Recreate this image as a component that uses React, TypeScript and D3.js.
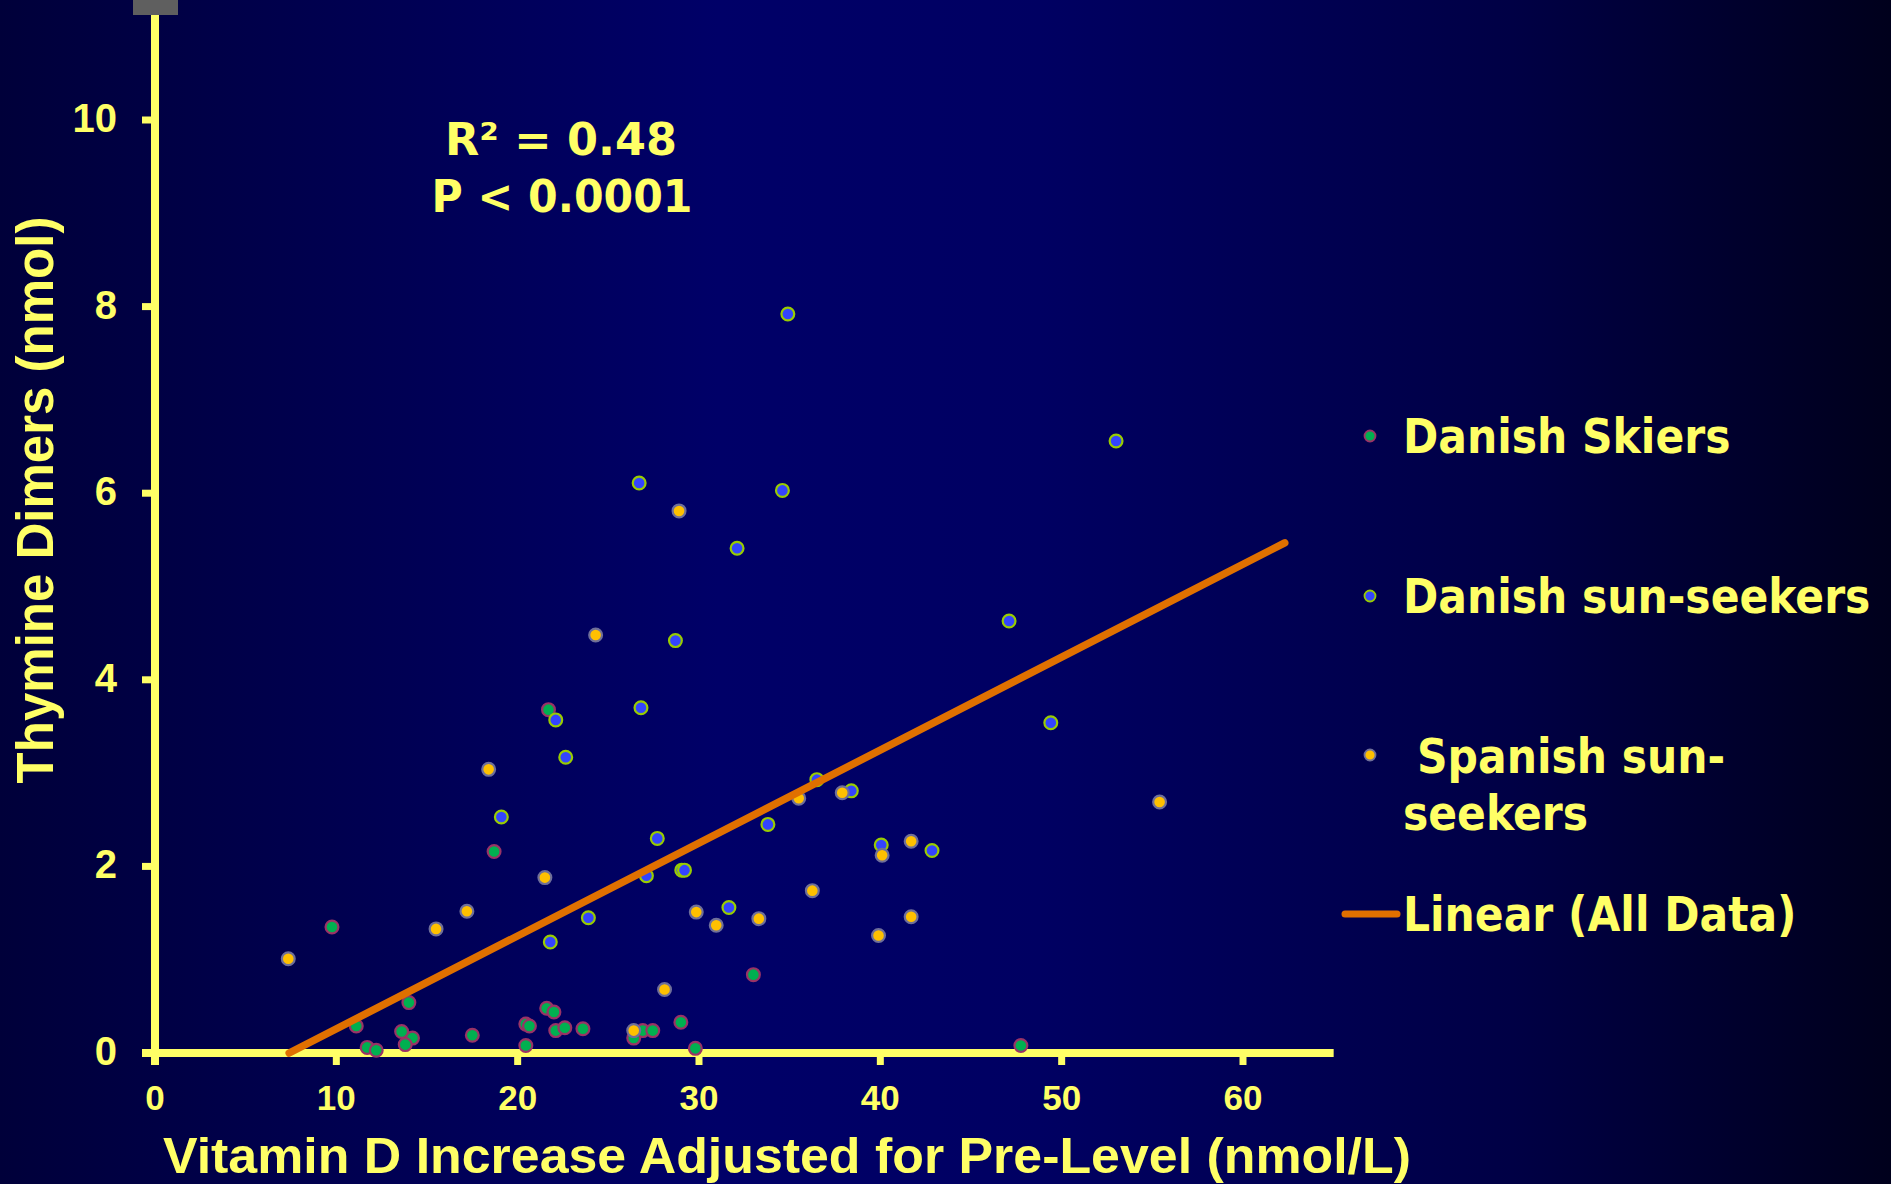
import React from "react";
import * as d3 from "d3";

// ---- data ----
const xTicks = [0, 10, 20, 30, 40, 50, 60];
const yTicks = [0, 2, 4, 6, 8, 10];

const skiersX = [21.7, 18.7, 9.76, 14.0, 11.1, 11.7, 12.2, 13.6, 14.2, 13.8, 17.5, 20.45, 20.65, 20.45, 21.6, 22.0, 22.1, 22.6, 23.6, 26.4, 26.9, 27.45, 29.0, 29.8, 33.0, 47.75];
const skiersY = [3.68, 2.16, 1.35, 0.54, 0.29, 0.06, 0.03, 0.23, 0.16, 0.09, 0.19, 0.31, 0.29, 0.08, 0.48, 0.44, 0.24, 0.27, 0.26, 0.16, 0.24, 0.24, 0.33, 0.05, 0.84, 0.08];

const danishSunX = [34.9, 26.7, 34.6, 32.1, 47.1, 28.7, 53.0, 26.8, 22.1, 22.65, 19.1, 49.4, 27.7, 27.1, 29.05, 29.2, 31.65, 33.8, 36.5, 38.4, 40.05, 42.85, 23.9, 21.8];
const danishSunY = [7.92, 6.11, 6.03, 5.41, 4.63, 4.42, 6.56, 3.70, 3.57, 3.17, 2.53, 3.54, 2.30, 1.90, 1.96, 1.96, 1.56, 2.45, 2.93, 2.81, 2.23, 2.17, 1.45, 1.19];

const spanishX = [28.9, 24.3, 18.4, 21.5, 17.2, 15.5, 7.35, 26.4, 28.1, 29.85, 30.95, 33.3, 35.5, 37.9, 36.25, 40.1, 41.7, 41.7, 39.9, 55.4];
const spanishY = [5.81, 4.48, 3.04, 1.88, 1.52, 1.33, 1.01, 0.24, 0.68, 1.51, 1.37, 1.44, 2.73, 2.79, 1.74, 2.12, 2.27, 1.46, 1.26, 2.69];

const trendRange = [7.4, 62.3];
const trendSlope = 0.0996;
const trendIntercept = -0.737;

const statLines = ["R² = 0.48", "P < 0.0001"];
const legendLabels = ["Danish Skiers", "Danish sun-seekers", "Spanish sun-", "seekers", "Linear (All Data)"];
const yTitle = "Thymine Dimers (nmol)";
const xTitle = "Vitamin D Increase Adjusted for Pre-Level (nmol/L)";

// ---- style ----
const W = 1891;
const H = 1184;
const YEL = "#ffff66";
const ARIAL = "'Liberation Sans', Arial, sans-serif";
const TAHOMA = "'DejaVu Sans', Verdana, sans-serif";

const series = [
  { xs: skiersX, ys: skiersY, fill: "#00b050", stroke: "#993366" },
  { xs: danishSunX, ys: danishSunY, fill: "#3344ff", stroke: "#99cc00" },
  { xs: spanishX, ys: spanishY, fill: "#ffc000", stroke: "#6f6f99" },
];

function LegendText({ x, y, text }: { x: number; y: number; text: string }) {
  return (
    <text
      transform={`translate(${x},${y}) scale(0.885,1)`}
      fill={YEL}
      fontFamily={TAHOMA}
      fontWeight="bold"
      fontSize={48}
    >
      {text}
    </text>
  );
}

export default function App() {
  const x = d3.scaleLinear().domain([0, 60]).range([155, 1243]);
  const y = d3.scaleLinear().domain([0, 10]).range([1053, 120]);

  const trendLine = d3
    .line<number>()
    .x((d) => x(d))
    .y((d) => y(trendSlope * d + trendIntercept));

  return (
    <svg
      width={W}
      height={H}
      viewBox={`0 0 ${W} ${H}`}
      style={{ position: "absolute", left: 0, top: 0, display: "block" }}
    >
      <defs>
        <linearGradient id="bg" x1="0" y1="0" x2="1" y2="0">
          <stop offset="0" stopColor="#00003a" />
          <stop offset="0.38" stopColor="#000068" />
          <stop offset="0.55" stopColor="#000062" />
          <stop offset="0.8" stopColor="#000045" />
          <stop offset="1" stopColor="#00001c" />
        </linearGradient>
      </defs>
      <rect x={0} y={0} width={W} height={H} fill="url(#bg)" />
      <rect x={133} y={0} width={45} height={15} fill="#5f5f5f" />

      {/* axes */}
      <line x1={x(0)} x2={x(0)} y1={15} y2={1065} stroke={YEL} strokeWidth={8} />
      <line x1={142} x2={x(65)} y1={y(0)} y2={y(0)} stroke={YEL} strokeWidth={8} />
      {yTicks.map((t) => (
        <g key={"yt" + t}>
          <line x1={142} x2={x(0)} y1={y(t)} y2={y(t)} stroke={YEL} strokeWidth={7} />
          <text
            x={117}
            y={y(t) + 12}
            textAnchor="end"
            fill={YEL}
            fontFamily={ARIAL}
            fontWeight="bold"
            fontSize={40}
          >
            {t}
          </text>
        </g>
      ))}
      {xTicks.map((t) => (
        <g key={"xt" + t}>
          <line x1={x(t)} x2={x(t)} y1={y(0)} y2={1065} stroke={YEL} strokeWidth={7} />
          <text
            x={x(t)}
            y={1110}
            textAnchor="middle"
            fill={YEL}
            fontFamily={ARIAL}
            fontWeight="bold"
            fontSize={35}
          >
            {t}
          </text>
        </g>
      ))}

      {/* axis titles */}
      <text
        transform="translate(53,500) rotate(-90)"
        textAnchor="middle"
        fill={YEL}
        fontFamily={ARIAL}
        fontWeight="bold"
        fontSize={51}
      >
        {yTitle}
      </text>
      <text
        x={163}
        y={1173}
        fill={YEL}
        fontFamily={ARIAL}
        fontWeight="bold"
        fontSize={50}
        textLength={1248}
        lengthAdjust="spacingAndGlyphs"
      >
        {xTitle}
      </text>

      {/* stats */}
      <text x={561} y={155} textAnchor="middle" fill={YEL} fontFamily={TAHOMA} fontWeight="bold" fontSize={45} textLength={232} lengthAdjust="spacingAndGlyphs">
        {statLines[0]}
      </text>
      <text x={562} y={212} textAnchor="middle" fill={YEL} fontFamily={TAHOMA} fontWeight="bold" fontSize={45} textLength={261} lengthAdjust="spacingAndGlyphs">
        {statLines[1]}
      </text>

      {/* points */}
      {series.map((s, si) => (
        <g key={"s" + si}>
          {s.xs.map((xv, i) => (
            <circle
              key={i}
              cx={x(xv)}
              cy={y(s.ys[i])}
              r={6.4}
              fill={s.fill}
              stroke={s.stroke}
              strokeWidth={2.2}
            />
          ))}
        </g>
      ))}

      {/* trend line */}
      <path
        d={trendLine(trendRange) || ""}
        fill="none"
        stroke="#e07000"
        strokeWidth={7.5}
        strokeLinecap="round"
      />

      {/* legend */}
      <circle cx={1370} cy={436} r={5.5} fill={series[0].fill} stroke={series[0].stroke} strokeWidth={1.8} />
      <circle cx={1370} cy={596} r={5.5} fill={series[1].fill} stroke={series[1].stroke} strokeWidth={1.8} />
      <circle cx={1370} cy={755} r={5.5} fill={series[2].fill} stroke={series[2].stroke} strokeWidth={1.8} />
      <line x1={1345} x2={1397} y1={914} y2={914} stroke="#e07000" strokeWidth={7} strokeLinecap="round" />
      <LegendText x={1403} y={453} text={legendLabels[0]} />
      <LegendText x={1403} y={613} text={legendLabels[1]} />
      <LegendText x={1417} y={773} text={legendLabels[2]} />
      <LegendText x={1403} y={830} text={legendLabels[3]} />
      <LegendText x={1403} y={931} text={legendLabels[4]} />
    </svg>
  );
}
